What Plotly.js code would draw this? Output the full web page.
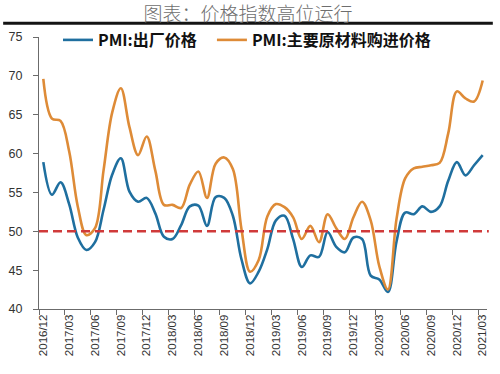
<!DOCTYPE html>
<html><head><meta charset="utf-8">
<script src="https://cdn.plot.ly/plotly-3.0.1.min.js"></script>
<style>html,body{margin:0;padding:0;background:#fff}#chart{width:500px;height:374px}</style>
</head><body><div id="chart"></div>
<script>
const months = [
  '2016/12','2017/01','2017/02','2017/03','2017/04','2017/05','2017/06','2017/07','2017/08','2017/09','2017/10','2017/11','2017/12',
  '2018/01','2018/02','2018/03','2018/04','2018/05','2018/06','2018/07','2018/08','2018/09','2018/10','2018/11','2018/12',
  '2019/01','2019/02','2019/03','2019/04','2019/05','2019/06','2019/07','2019/08','2019/09','2019/10','2019/11','2019/12',
  '2020/01','2020/02','2020/03','2020/04','2020/05','2020/06','2020/07','2020/08','2020/09','2020/10','2020/11','2020/12',
  '2021/01','2021/02','2021/03'
];
// PMI: 出厂价格
const outputPrice = [
  58.9, 54.7, 56.3, 53.5, 49.2, 47.6, 48.6, 52.8, 57.3, 59.4, 55.1, 53.8, 54.3,
  52.3, 49.3, 49.0, 50.8, 53.2, 53.3, 50.7, 54.4, 54.3, 52.0, 46.4, 43.3,
  44.8, 47.7, 51.4, 52.0, 49.0, 45.4, 46.9, 46.7, 49.9, 48.0, 47.3, 49.2,
  49.0, 44.3, 43.8, 42.2, 48.7, 52.4, 52.2, 53.2, 52.5, 53.2, 56.5, 58.9,
  57.2, 58.5, 59.8
];
// PMI: 主要原材料购进价格
const inputPrice = [
  69.6, 64.5, 64.2, 60.3, 53.2, 49.5, 50.4, 57.9, 65.3, 68.4, 63.4, 59.8, 62.2,
  57.8, 53.4, 53.4, 53.0, 56.0, 57.7, 54.3, 58.7, 59.5, 58.0, 50.3, 44.8,
  46.3, 51.9, 53.5, 53.1, 51.8, 49.0, 50.7, 48.6, 52.2, 50.4, 49.0, 51.8,
  53.8, 51.4, 45.5, 42.5, 51.6, 56.8, 58.1, 58.3, 58.5, 58.8, 62.6, 68.0,
  67.1, 66.7, 69.4
];
const seriesNames = ['PMI:出厂价格', 'PMI:主要原材料购进价格'];
const titleText = '图表：价格指数高位运行';
const threshold = 50;
const yTicks = [40, 45, 50, 55, 60, 65, 70, 75];
const tickStep = 3;

const idx = months.map((_, i) => i);
const tickIdx = idx.filter(i => i % tickStep === 0);
const tickText = tickIdx.map(i => months[i]);

const cjk = '"Noto Sans CJK SC", "Liberation Sans", sans-serif';
const axisColor = '#6b6b6b';
const legendFont = {family: cjk, size: 16, color: '#111', weight: 'bold'};

const traces = [
  {x: idx, y: outputPrice, name: seriesNames[0], type: 'scatter', mode: 'lines', legend: 'legend',
   line: {color: '#1f6f9f', width: 2.6, shape: 'spline', smoothing: 1}},
  {x: idx, y: inputPrice, name: seriesNames[1], type: 'scatter', mode: 'lines', legend: 'legend2',
   line: {color: '#de8b37', width: 2.6, shape: 'spline', smoothing: 1}}
];

const layout = {
  width: 500, height: 374,
  margin: {l: 39, r: 13, t: 37, b: 65},
  paper_bgcolor: '#fff', plot_bgcolor: '#fff',
  title: {text: titleText, x: 0.496, xref: 'container', y: 0.962, yref: 'container', yanchor: 'middle',
          font: {family: cjk, size: 19, color: '#6e6e6e', weight: 300}},
  showlegend: true,
  legend: {orientation: 'h', x: 0.0424, xanchor: 'left', y: 0.989, yanchor: 'middle',
           bgcolor: 'rgba(0,0,0,0)', font: legendFont},
  legend2: {orientation: 'h', x: 0.386, xanchor: 'left', y: 0.989, yanchor: 'middle',
           bgcolor: 'rgba(0,0,0,0)', font: legendFont},
  xaxis: {
    range: [-0.5, months.length - 0.5], showgrid: false, zeroline: false,
    showline: true, linecolor: axisColor, linewidth: 1,
    tickmode: 'array', tickvals: tickIdx, ticktext: tickText, ticks: '',
    tickangle: -90, tickfont: {family: '"Liberation Sans", Arial, sans-serif', size: 11.5, color: '#333'},
    minor: {tickmode: 'linear', tick0: -0.5, dtick: tickStep, ticks: 'outside', ticklen: 5, tickwidth: 1, tickcolor: axisColor, showgrid: false},
    fixedrange: true
  },
  yaxis: {
    range: [yTicks[0], yTicks[yTicks.length - 1]], showgrid: false, zeroline: false,
    showline: true, linecolor: axisColor, linewidth: 1,
    tickmode: 'array', tickvals: yTicks, ticks: 'outside', ticklen: 5, tickwidth: 1, tickcolor: axisColor,
    ticklabelstandoff: 8,
    tickfont: {family: '"Liberation Sans", Arial, sans-serif', size: 12.5, color: '#333'},
    fixedrange: true
  },
  shapes: [
    {type: 'line', xref: 'paper', x0: 0, x1: 1.004, yref: 'y', y0: threshold, y1: threshold,
     line: {color: '#d03a3a', width: 2.6, dash: '9px,5px'}},
    {type: 'line', layer: 'above', xref: 'paper', x0: -0.08, x1: 1.013, yref: 'paper', y0: 1.051, y1: 1.051,
     line: {color: '#141414', width: 3}}
  ]
};

Plotly.newPlot('chart', traces, layout, {displayModeBar: false, staticPlot: true});
</script>
</body></html>
